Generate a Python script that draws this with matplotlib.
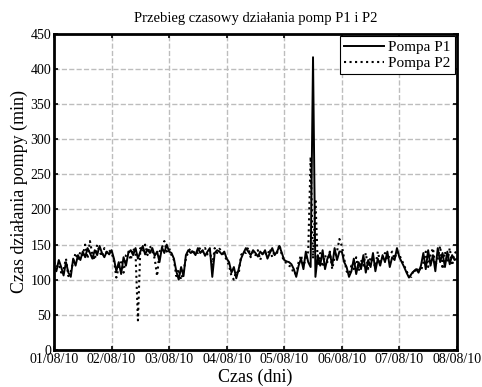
import numpy as np
import pandas as pd
import matplotlib
matplotlib.use('Agg')
import matplotlib.pyplot as plt
import matplotlib.dates as mdates

plt.rcParams['font.family'] = ['Liberation Serif', 'DejaVu Serif']

# hourly samples, 01/08/10 00:00 .. 08/08/10 00:00
czas = pd.date_range('2010-08-01', periods=169, freq='h')

p1 = [120, 112, 128, 118, 106, 125, 110, 104, 130, 120, 135, 128, 140, 132, 145, 138, 130, 142, 135, 148, 138, 132, 140, 136,
      142, 130, 112, 125, 108, 132, 120, 138, 142, 135, 145, 130, 140, 148, 136, 143, 138, 145, 134, 140, 125, 146, 138, 150,
      140, 138, 130, 112, 100, 118, 105, 135, 142, 138, 140, 135, 145, 138, 142, 134, 140, 145, 104, 138, 142, 140, 136, 140,
      130, 125, 110, 118, 102, 115, 130, 138, 145, 140, 135, 142, 138, 133, 140, 136, 142, 130, 138, 145, 135, 140, 148, 138,
      128, 126, 125, 122, 115, 104, 120, 130, 115, 140, 125, 118, 417, 104, 135, 120, 142, 115, 130, 138, 120, 145, 128, 140,
      140, 125, 118, 104, 112, 130, 108, 125, 115, 135, 110, 128, 118, 138, 112, 130, 120, 135, 125, 140, 118, 132, 128, 145,
      132, 125, 118, 110, 103, 108, 112, 115, 110, 120, 138, 115, 142, 120, 135, 112, 145, 125, 138, 118, 140, 122, 135, 128, 130]

p2 = [125, 118, 122, 110, 115, 130, 105, 112, 125, 138, 128, 140, 135, 150, 130, 155, 136, 128, 150, 140, 133, 145, 138, 142,
      138, 128, 103, 118, 125, 110, 135, 140, 128, 145, 138, 42, 145, 140, 150, 135, 148, 140, 130, 105, 140, 145, 155, 140,
      145, 135, 128, 105, 115, 100, 112, 130, 140, 145, 136, 142, 138, 146, 140, 145, 136, 142, 120, 145, 138, 144, 140, 135,
      128, 120, 105, 100, 112, 108, 135, 140, 138, 146, 132, 140, 135, 142, 128, 140, 138, 135, 144, 132, 140, 138, 150, 135,
      125, 124, 120, 118, 108, 110, 125, 135, 120, 130, 140, 275, 130, 215, 120, 138, 118, 135, 125, 140, 115, 132, 140, 158,
      148, 130, 112, 108, 120, 115, 132, 112, 128, 120, 138, 115, 132, 125, 118, 140, 125, 130, 138, 128, 135, 140, 130, 140,
      135, 128, 120, 112, 106, 104, 115, 110, 118, 112, 125, 140, 118, 135, 145, 120, 130, 148, 115, 140, 125, 145, 120, 138, 140]

fig = plt.figure(figsize=(4.82, 3.87), dpi=100)
ax = fig.add_axes([0.112, 0.096, 0.836, 0.816])

ax.plot(czas, p1, 'k-', lw=1.4, label='Pompa P1')
ax.plot(czas, p2, 'k:', lw=1.5, label='Pompa P2')

ax.set_xlim(czas[0], czas[-1])
ax.set_ylim(0, 450)
ax.set_yticks(np.arange(0, 451, 50))
ax.xaxis.set_major_locator(mdates.DayLocator())
ax.xaxis.set_major_formatter(mdates.DateFormatter('%d/%m/%y'))

ax.grid(True, color='#bdbdbd', linestyle='--', linewidth=1.0)
ax.tick_params(direction='in', top=True, right=True, labelsize=10, length=3, width=1.2, pad=2)
for s in ax.spines.values():
    s.set_linewidth(2)

ax.set_title('Przebieg czasowy działania pomp P1 i P2', fontsize=10.5, pad=9)
ax.set_xlabel('Czas (dni)', fontsize=13, labelpad=2)
ax.set_ylabel('Czas działania pompy (min)', fontsize=13, labelpad=2)

leg = ax.legend(loc='upper right', fontsize=11, fancybox=False, framealpha=1,
                edgecolor='k', borderpad=0.25, handlelength=2.6, labelspacing=0.15,
                handletextpad=0.3, borderaxespad=0.15)
leg.get_frame().set_linewidth(0.8)

fig.savefig('out.png', dpi=100)
